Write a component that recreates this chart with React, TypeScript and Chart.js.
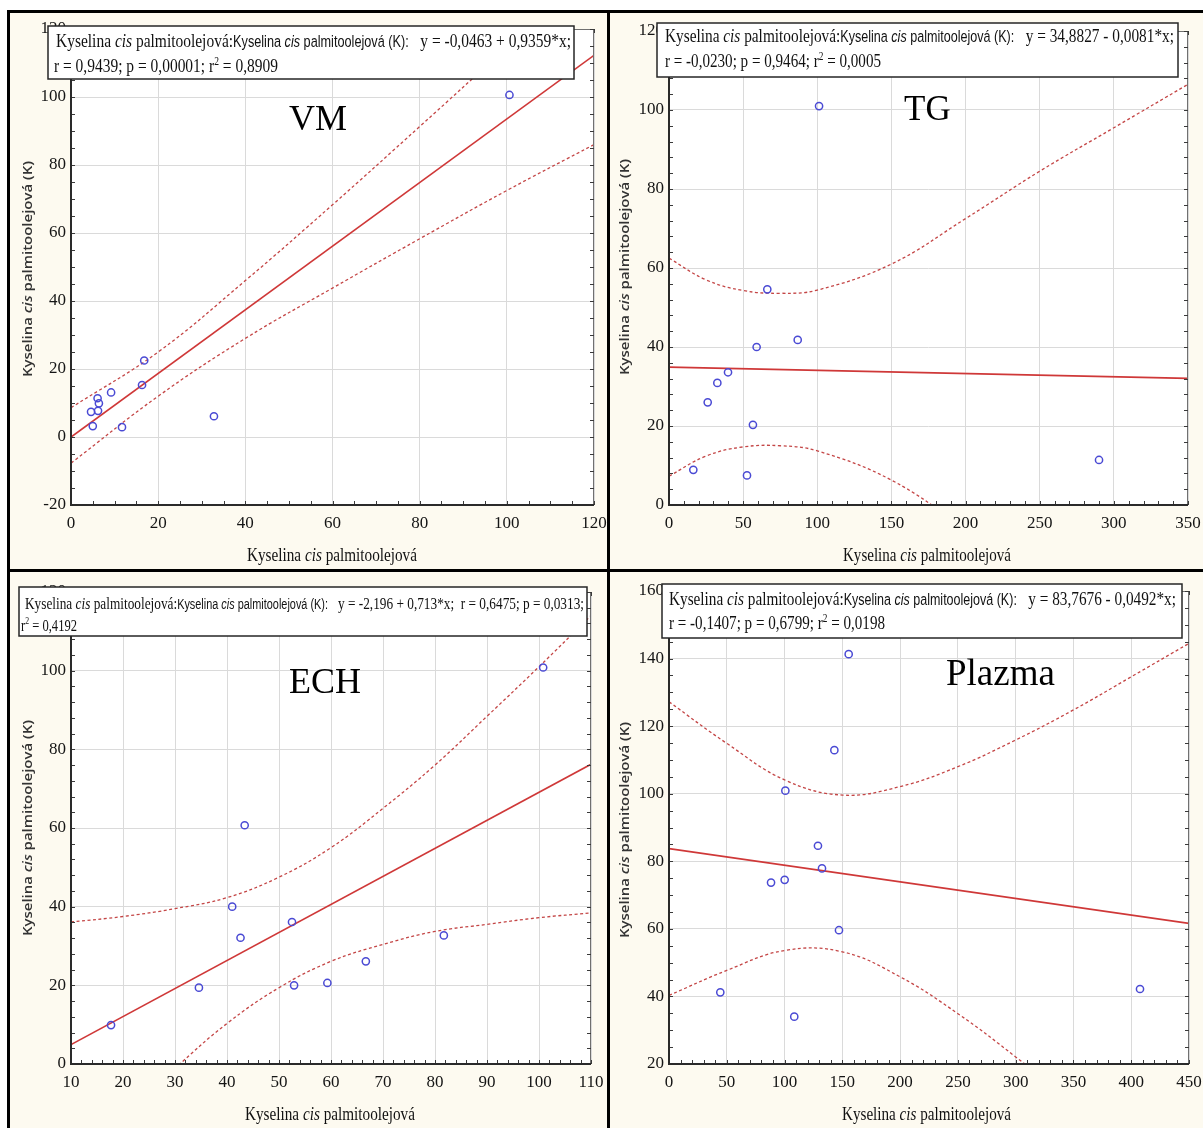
import React, { useEffect, useRef } from "react";
import { Chart, registerables } from "chart.js";

Chart.register(...registerables);

// ---------------- Data ----------------
// VM
const vmX = [16.8, 16.3, 9.2, 6.1, 6.4, 4.6, 6.2, 5.0, 11.7, 32.8, 100.6];
const vmY = [22.5, 15.3, 13.1, 11.4, 9.9, 7.4, 7.7, 3.2, 2.9, 6.1, 100.6];
const vmFitX = [0, 120];
const vmFitY = [-0.05, 112.26];
const vmBandX = [0, 20, 40, 60, 80, 100, 120];
const vmUpper = [8.6, 25, 46, 68.3, 91.3, 114.6, 138];
const vmLower = [-7.7, 12, 29, 43.8, 58.3, 72.5, 86];
const vmEq = "y = -0,0463 + 0,9359*x;";
const vmStats = "r = 0,9439; p = 0,00001; ";
const vmR2 = "0,8909";

// TG
const tgX = [66.3, 59.1, 86.8, 39.8, 32.6, 26.1, 56.6, 16.4, 52.6, 101.2, 290];
const tgY = [54.6, 40.0, 41.8, 33.6, 30.9, 26.0, 20.3, 8.9, 7.5, 101.0, 11.4];
const tgFitX = [0, 350];
const tgFitY = [34.88, 32.05];
const tgBandX = [0, 25, 50, 75, 100, 150, 200, 250, 300, 350];
const tgUpper = [62.5, 57, 54.3, 53.6, 54.4, 61, 72.5, 84.5, 95.5, 106.5];
const tgLower = [7.3, 12.4, 14.7, 15.0, 13.7, 6.3, -6, -18.8, -30, -42];
const tgEq = "y = 34,8827 - 0,0081*x;";
const tgStats = "r = -0,0230; p = 0,9464; ";
const tgR2 = "0,0005";

// ECH
const echX = [17.7, 34.6, 41.0, 42.6, 52.5, 52.9, 59.3, 66.7, 81.7, 43.4, 100.8];
const echY = [9.9, 19.4, 40.0, 32.1, 36.1, 20.0, 20.6, 26.1, 32.7, 60.7, 100.8];
const echFitX = [10, 110];
const echFitY = [4.93, 76.23];
const echBandX = [10, 20, 30, 40, 50, 60, 70, 80, 90, 100, 110];
const echUpper = [36.1, 37.5, 39.5, 42.3, 47.5, 55, 65, 76, 88.4, 101, 114];
const echLower = [-26.3, -13.4, -1.1, 10.3, 19.4, 26.1, 30.4, 33.7, 35.5, 37.2, 38.4];
const echEq = "y = -2,196 + 0,713*x;\u00a0\u00a0r = 0,6475; p = 0,0313;";
const echStats = "";
const echR2 = "0,4192";

// Plazma
const plX = [155.5, 143.1, 100.7, 128.9, 132.4, 88.3, 100.1, 147.1, 44.4, 108.4, 407.6];
const plY = [141.3, 112.9, 100.9, 84.6, 77.9, 73.7, 74.5, 59.6, 41.2, 34.0, 42.2];
const plFitX = [0, 450];
const plFitY = [83.77, 61.63];
const plBandX = [0, 50, 100, 150, 200, 250, 300, 350, 400, 450];
const plUpper = [127.2, 114.9, 104.1, 99.6, 102.1, 108, 115.9, 124.8, 134.6, 144.5];
const plLower = [40.3, 47.7, 53.6, 53.2, 45.8, 34.9, 22.1, 8.3, -6.5, -21.2];
const plEq = "y = 83,7676 - 0,0492*x;";
const plStats = "r = -0,1407; p = 0,6799; ";
const plR2 = "0,0198";

// ---------------- Styles ----------------
const BLUE = "#4a4ad4";
const RED = "#cf3838";
const RED_DASH = "#c44646";
const CREAM = "#fdfaf0";
const SERIF = "'Liberation Serif', 'Times New Roman', serif";
const SANS = "'Liberation Sans', Arial, sans-serif";
const UI_SANS = "'Open Sans', 'Noto Sans', sans-serif";

type Rect = { left: number; top: number; width: number; height: number };
type Box = { left: number; right: number; top: number; bottom: number };

interface PanelProps {
  canvas: Rect;
  plot: Box;
  xMin: number; xMax: number; xStep: number; xSub: number;
  yMin: number; yMax: number; yStep: number; ySub: number;
  px: number[]; py: number[];
  fitX: number[]; fitY: number[];
  bandX: number[]; upper: number[]; lower: number[];
}

const toPts = (xs: number[], ys: number[]) => xs.map((x, i) => ({ x, y: ys[i] }));

const framePlugin = {
  id: "frame",
  beforeDraw(chart: any) {
    const { ctx, chartArea: a } = chart;
    ctx.save();
    ctx.fillStyle = "#ffffff";
    ctx.fillRect(a.left, a.top, a.right - a.left, a.bottom - a.top);
    ctx.restore();
  },
  afterDraw(chart: any, _args: any, opts: any) {
    const { ctx, chartArea: a, scales } = chart;
    const xs = scales.x;
    const ys = scales.y;
    ctx.save();
    ctx.strokeStyle = "#707070";
    ctx.lineWidth = 1;
    ctx.strokeRect(a.left + 0.5, a.top + 0.5, a.right - a.left - 1, a.bottom - a.top - 1);
    ctx.strokeStyle = "#3a3a3a";
    ctx.beginPath();
    const dx = opts.xStep / opts.xSub;
    for (let v = xs.min; v <= xs.max + 1e-9; v += dx) {
      const p = Math.round(xs.getPixelForValue(v)) + 0.5;
      ctx.moveTo(p, a.bottom);
      ctx.lineTo(p, a.bottom - 4);
      ctx.moveTo(p, a.top);
      ctx.lineTo(p, a.top + 4);
    }
    const dy = opts.yStep / opts.ySub;
    for (let v = ys.min; v <= ys.max + 1e-9; v += dy) {
      const p = Math.round(ys.getPixelForValue(v)) + 0.5;
      ctx.moveTo(a.left, p);
      ctx.lineTo(a.left + 4, p);
      ctx.moveTo(a.right, p);
      ctx.lineTo(a.right - 4, p);
    }
    ctx.stroke();
    ctx.strokeStyle = "#2a2a2a";
    ctx.lineWidth = 2;
    ctx.beginPath();
    ctx.moveTo(a.left, a.top);
    ctx.lineTo(a.left, a.bottom);
    ctx.lineTo(a.right, a.bottom);
    ctx.stroke();
    ctx.restore();
  },
};

function Panel(p: PanelProps) {
  const ref = useRef<HTMLCanvasElement>(null);
  useEffect(() => {
    const c = ref.current;
    if (!c) return;
    const yW = p.plot.left - p.canvas.left;
    const padR = p.canvas.left + p.canvas.width - p.plot.right;
    const padT = p.plot.top - p.canvas.top;
    const xH = p.canvas.top + p.canvas.height - p.plot.bottom;
    const tickFont = { family: SERIF, size: 17 };
    const chart = new Chart(c, {
      type: "scatter",
      data: {
        datasets: [
          {
            type: "scatter",
            data: toPts(p.px, p.py),
            pointRadius: 3.6,
            pointHoverRadius: 3.6,
            borderWidth: 1.5,
            borderColor: BLUE,
            backgroundColor: "rgba(0,0,0,0)",
          } as any,
          {
            type: "line",
            data: toPts(p.fitX, p.fitY),
            borderColor: RED,
            borderWidth: 1.7,
            pointRadius: 0,
            fill: false,
          } as any,
          {
            type: "line",
            data: toPts(p.bandX, p.upper),
            borderColor: RED_DASH,
            borderWidth: 1.3,
            borderDash: [3, 2.5],
            pointRadius: 0,
            tension: 0.4,
            fill: false,
          } as any,
          {
            type: "line",
            data: toPts(p.bandX, p.lower),
            borderColor: RED_DASH,
            borderWidth: 1.3,
            borderDash: [3, 2.5],
            pointRadius: 0,
            tension: 0.4,
            fill: false,
          } as any,
        ],
      },
      options: {
        responsive: false,
        maintainAspectRatio: false,
        animation: false,
        layout: { padding: { left: 0, right: padR, top: padT, bottom: 0 } },
        plugins: {
          legend: { display: false },
          tooltip: { enabled: false },
          frame: { xStep: p.xStep, xSub: p.xSub, yStep: p.yStep, ySub: p.ySub },
        } as any,
        scales: {
          x: {
            type: "linear",
            min: p.xMin,
            max: p.xMax,
            grid: { color: "#dadada", lineWidth: 1, drawTicks: false },
            border: { display: false },
            ticks: {
              stepSize: p.xStep,
              autoSkip: false,
              maxRotation: 0,
              padding: 0,
              color: "#151515",
              font: { ...tickFont, lineHeight: 2.2 },
              callback: (v: any) => String(v),
            },
            afterFit: (s: any) => {
              s.height = xH;
            },
          },
          y: {
            type: "linear",
            min: p.yMin,
            max: p.yMax,
            grid: { color: "#dadada", lineWidth: 1, drawTicks: false },
            border: { display: false },
            ticks: {
              stepSize: p.yStep,
              autoSkip: false,
              padding: 5,
              color: "#151515",
              font: tickFont,
              callback: (v: any) => String(v),
            },
            afterFit: (s: any) => {
              s.width = yW;
            },
          },
        },
      } as any,
      plugins: [framePlugin as any],
    });
    return () => chart.destroy();
  }, []);
  return (
    <canvas
      ref={ref}
      width={p.canvas.width}
      height={p.canvas.height}
      style={{
        position: "absolute",
        left: p.canvas.left,
        top: p.canvas.top,
        width: p.canvas.width,
        height: p.canvas.height,
      }}
    />
  );
}

function Legend(props: {
  x: number; y: number; w: number; h: number;
  l1x: number; l1y: number; l1w: number;
  l2x: number; l2y: number; l2w: number;
  size: number; eq: string; stats: string; r2: string;
}) {
  const s = props.size;
  const ss = s * 0.82;
  return (
    <g>
      <rect x={props.x} y={props.y} width={props.w} height={props.h} fill="#ffffff" stroke="#262626" strokeWidth={1.5} />
      <text
        x={props.l1x}
        y={props.l1y}
        textLength={props.l1w}
        lengthAdjust="spacingAndGlyphs"
        fontFamily={SERIF}
        fontSize={s}
        fill="#111"
      >
        <tspan>{"Kyselina "}</tspan>
        <tspan fontStyle="italic">cis</tspan>
        <tspan>{" palmitoolejová:"}</tspan>
        <tspan fontFamily={SANS} fontSize={ss}>{"Kyselina "}</tspan>
        <tspan fontFamily={SANS} fontSize={ss} fontStyle="italic">cis</tspan>
        <tspan fontFamily={SANS} fontSize={ss}>{" palmitoolejová (K):"}</tspan>
        <tspan>{"\u00a0\u00a0\u00a0" + props.eq}</tspan>
      </text>
      <text
        x={props.l2x}
        y={props.l2y}
        textLength={props.l2w}
        lengthAdjust="spacingAndGlyphs"
        fontFamily={SERIF}
        fontSize={s}
        fill="#111"
      >
        <tspan>{props.stats + "r"}</tspan>
        <tspan dy={-7} fontSize={s * 0.62}>2</tspan>
        <tspan dy={7}>{" = " + props.r2}</tspan>
      </text>
    </g>
  );
}

function XTitle({ x, y, w }: { x: number; y: number; w: number }) {
  return (
    <text x={x} y={y} textLength={w} lengthAdjust="spacingAndGlyphs" fontFamily={SERIF} fontSize={19} fill="#111">
      <tspan>{"Kyselina "}</tspan>
      <tspan fontStyle="italic">cis</tspan>
      <tspan>{" palmitoolejová"}</tspan>
    </text>
  );
}

function YTitle({ cx, cy, w }: { cx: number; cy: number; w: number }) {
  return (
    <text
      transform={`translate(${cx},${cy}) rotate(-90)`}
      x={-w / 2}
      y={0}
      textLength={w}
      lengthAdjust="spacingAndGlyphs"
      dominantBaseline="central"
      fontFamily={UI_SANS}
      fontWeight={600}
      fontSize={13}
      fill="#333"
    >
      <tspan>{"Kyselina "}</tspan>
      <tspan fontStyle="italic">cis</tspan>
      <tspan>{" palmitoolejová (K)"}</tspan>
    </text>
  );
}

export default function App() {
  return (
    <div
      style={{
        position: "absolute",
        left: 0,
        top: 0,
        width: 1203,
        height: 1128,
        background: "#ffffff",
        overflow: "hidden",
      }}
    >
      <div style={{ position: "absolute", left: 10, top: 13, width: 1193, height: 1115, background: CREAM }} />

      <Panel
        canvas={{ left: 10, top: 13, width: 597, height: 556 }}
        plot={{ left: 71, right: 594, top: 29, bottom: 505 }}
        xMin={0} xMax={120} xStep={20} xSub={4}
        yMin={-20} yMax={120} yStep={20} ySub={4}
        px={vmX} py={vmY} fitX={vmFitX} fitY={vmFitY}
        bandX={vmBandX} upper={vmUpper} lower={vmLower}
      />
      <Panel
        canvas={{ left: 610, top: 13, width: 593, height: 556 }}
        plot={{ left: 669, right: 1188, top: 31, bottom: 505 }}
        xMin={0} xMax={350} xStep={50} xSub={5}
        yMin={0} yMax={120} yStep={20} ySub={5}
        px={tgX} py={tgY} fitX={tgFitX} fitY={tgFitY}
        bandX={tgBandX} upper={tgUpper} lower={tgLower}
      />
      <Panel
        canvas={{ left: 10, top: 572, width: 597, height: 556 }}
        plot={{ left: 71, right: 591, top: 592, bottom: 1064 }}
        xMin={10} xMax={110} xStep={10} xSub={5}
        yMin={0} yMax={120} yStep={20} ySub={5}
        px={echX} py={echY} fitX={echFitX} fitY={echFitY}
        bandX={echBandX} upper={echUpper} lower={echLower}
      />
      <Panel
        canvas={{ left: 610, top: 572, width: 593, height: 556 }}
        plot={{ left: 669, right: 1189, top: 591, bottom: 1064 }}
        xMin={0} xMax={450} xStep={50} xSub={5}
        yMin={20} yMax={160} yStep={20} ySub={4}
        px={plX} py={plY} fitX={plFitX} fitY={plFitY}
        bandX={plBandX} upper={plUpper} lower={plLower}
      />

      <svg
        width={1203}
        height={1128}
        style={{ position: "absolute", left: 0, top: 0, pointerEvents: "none" }}
      >
        <Legend x={48} y={26} w={526} h={53} l1x={56} l1y={47} l1w={515} l2x={54} l2y={72} l2w={224} size={19} eq={vmEq} stats={vmStats} r2={vmR2} />
        <Legend x={657} y={23} w={521} h={54} l1x={665} l1y={42} l1w={509} l2x={665} l2y={67} l2w={216} size={19} eq={tgEq} stats={tgStats} r2={tgR2} />
        <Legend x={19} y={587} w={568} h={49} l1x={25} l1y={609} l1w={559} l2x={21} l2y={631} l2w={56} size={17} eq={echEq} stats={echStats} r2={echR2} />
        <Legend x={662} y={584} w={520} h={54} l1x={669} l1y={605} l1w={507} l2x={669} l2y={629} l2w={216} size={19} eq={plEq} stats={plStats} r2={plR2} />

        <text x={289} y={130} fontFamily={SERIF} fontSize={36} fill="#000">VM</text>
        <text x={904} y={120} fontFamily={SERIF} fontSize={35} fill="#000">TG</text>
        <text x={289} y={693} fontFamily={SERIF} fontSize={36} fill="#000">ECH</text>
        <text x={946} y={685} fontFamily={SERIF} fontSize={37} fill="#000">Plazma</text>

        <XTitle x={247} y={561} w={170} />
        <XTitle x={843} y={561} w={168} />
        <XTitle x={245} y={1120} w={170} />
        <XTitle x={842} y={1120} w={169} />

        <YTitle cx={27} cy={269} w={216} />
        <YTitle cx={624} cy={267} w={216} />
        <YTitle cx={27} cy={828} w={216} />
        <YTitle cx={624} cy={830} w={216} />
      </svg>

      <div style={{ position: "absolute", left: 7, top: 10, width: 1196, height: 3, background: "#000" }} />
      <div style={{ position: "absolute", left: 7, top: 10, width: 3, height: 1118, background: "#000" }} />
      <div style={{ position: "absolute", left: 607, top: 10, width: 3, height: 1118, background: "#000" }} />
      <div style={{ position: "absolute", left: 7, top: 569, width: 1196, height: 3, background: "#000" }} />
    </div>
  );
}
